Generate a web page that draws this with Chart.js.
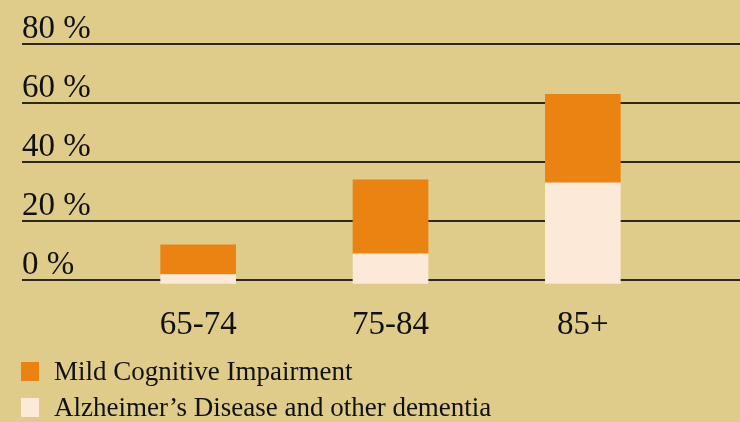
<!DOCTYPE html>
<html>
<head>
<meta charset="utf-8">
<script src="https://cdn.jsdelivr.net/npm/chart.js@4/dist/chart.umd.min.js"></script>
<style>
  html, body { margin: 0; padding: 0; background: #dfcb8a; }
  #wrap { position: relative; width: 740px; height: 422px; }
  #legend { position: absolute; left: 21px; top: 353px; font-family: "Liberation Serif", serif; font-size: 27px; color: #111; }
  .row { display: flex; align-items: center; height: 36px; line-height: 36px; }
  .box { width: 18px; height: 19px; margin-right: 15px; }
</style>
</head>
<body>
<div id="wrap">
  <canvas id="chart" width="740" height="422"></canvas>
  <div id="legend"></div>
</div>
<script>
const ageGroups = ["65-74", "75-84", "85+"];
const alzheimers = [2, 9, 33];
const mildCognitive = [10, 25, 30];
const yTicks = [0, 20, 40, 60, 80];

const orange = "#eb8313";
const cream = "#fde9d8";
const lineColor = "#2e2a1a";

// horizontal rules across the whole width, drawn under the bars
const rules = {
  id: 'rules',
  beforeDatasetsDraw(chart) {
    const y = chart.scales.y;
    const c = chart.ctx;
    c.save();
    c.strokeStyle = lineColor;
    c.lineWidth = 2;
    y.ticks.forEach(t => {
      const py = Math.round(y.getPixelForValue(t.value));
      c.beginPath();
      c.moveTo(y.left, py);
      c.lineTo(chart.width, py);
      c.stroke();
    });
    c.restore();
  }
};

const ctx = document.getElementById('chart').getContext('2d');
const myChart = new Chart(ctx, {
  type: 'bar',
  data: {
    labels: ageGroups,
    datasets: [
      {
        label: "Alzheimer\u2019s Disease and other dementia",
        data: alzheimers,
        backgroundColor: cream,
        base: -1,
        clip: false
      },
      {
        label: 'Mild Cognitive Impairment',
        data: mildCognitive,
        backgroundColor: orange
      }
    ]
  },
  options: {
    responsive: false,
    animation: false,
    layout: { padding: { left: 22, right: 61, top: 44, bottom: 60 } },
    datasets: { bar: { barThickness: 75 } },
    plugins: { legend: { display: false }, tooltip: { enabled: false } },
    scales: {
      x: {
        stacked: true,
        grid: { display: false },
        border: { display: false },
        ticks: {
          color: '#111',
          padding: 17,
          font: { family: 'Liberation Serif', size: 33 }
        }
      },
      y: {
        stacked: true,
        min: 0,
        max: 80,
        afterBuildTicks(scale) {
          scale.ticks = yTicks.map(v => ({ value: v }));
        },
        afterFit(scale) { scale.width = 80; },
        grid: { display: false },
        border: { display: false },
        ticks: {
          color: '#111',
          crossAlign: 'far',
          labelOffset: -15,
          font: { family: 'Liberation Serif', size: 33 },
          callback: v => v + ' %'
        }
      }
    }
  },
  plugins: [rules]
});

// legend built from the datasets, top entry first
const legend = document.getElementById('legend');
myChart.data.datasets.slice().reverse().forEach(ds => {
  const row = document.createElement('div');
  row.className = 'row';
  const box = document.createElement('span');
  box.className = 'box';
  box.style.background = ds.backgroundColor;
  const txt = document.createElement('span');
  txt.textContent = ds.label;
  row.appendChild(box);
  row.appendChild(txt);
  legend.appendChild(row);
});
</script>
</body>
</html>
